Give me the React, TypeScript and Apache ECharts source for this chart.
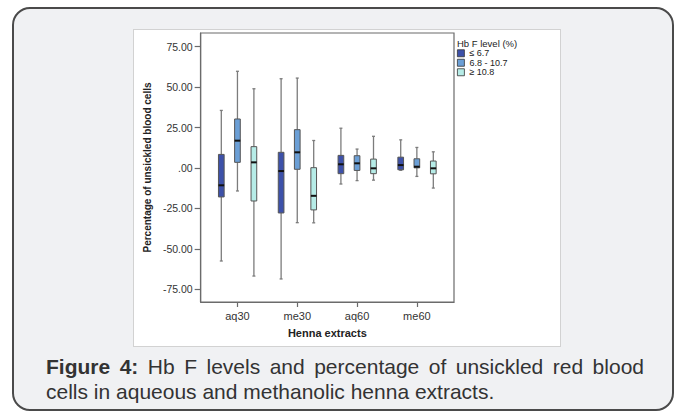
import React, { useEffect, useRef } from "react";
import * as echarts from "echarts";

const categories = ["aq30", "me30", "aq60", "me60"];
const levelNames = ["≤ 6.7", "6.8 - 10.7", "≥ 10.8"];
const levelColors = ["#3d51a9", "#6b9fd6", "#b6ece7"];
// [min, Q1, median, Q3, max] per category
const lowHbF = [
  [-57.5, -17.9, -10.7, 8.4, 35.6],
  [-68.6, -27.8, -1.9, 9.7, 55.2],
  [-9.9, -3.5, 2.3, 7.8, 24.6],
  [-1.4, -1.1, 1.8, 6.7, 17.4],
];
const midHbF = [
  [-14.2, 3.5, 16.9, 30.3, 59.8],
  [-33.8, -0.8, 9.7, 23.7, 55.6],
  [-7.8, -1.5, 2.9, 7.6, 11.7],
  [-5.2, 0.1, 0.8, 5.7, 12.7],
];
const highHbF = [
  [-66.8, -20.4, 3.5, 13.2, 49.0],
  [-33.9, -25.9, -17.2, 0.2, 17.0],
  [-7.5, -3.5, -0.2, 5.5, 19.6],
  [-12.4, -3.6, -0.2, 4.3, 10.0],
];
const yTicks = [-75, -50, -25, 0, 25, 50, 75];
const seriesValues = [lowHbF, midHbF, highHbF];
const boxOffsets = [-0.27, 0, 0.275];

const FONT = "'Liberation Sans', Arial, Helvetica, sans-serif";

function Chart() {
  const ref = useRef<HTMLDivElement>(null);
  useEffect(() => {
    if (!ref.current) return;
    const chart = echarts.init(ref.current, undefined, { renderer: "svg" });
    const series = seriesValues.map((vals, si) => ({
      type: "custom",
      name: levelNames[si],
      itemStyle: { color: levelColors[si] },
      encode: { x: 0, y: [1, 2, 3, 4, 5] },
      data: vals.map((v, ci) => [ci, ...v]),
      renderItem: (params: any, api: any) => {
        const x = api.value(0) + boxOffsets[si];
        const pMin = api.coord([x, api.value(1)]);
        const pQ1 = api.coord([x, api.value(2)]);
        const pMed = api.coord([x, api.value(3)]);
        const pQ3 = api.coord([x, api.value(4)]);
        const pMax = api.coord([x, api.value(5)]);
        const cx = pMed[0];
        const w = api.size([0.095, 0])[0];
        const wStyle = { stroke: "#7c7c7c", lineWidth: 1.3 };
        return {
          type: "group",
          children: [
            { type: "line", shape: { x1: cx, y1: pMax[1], x2: cx, y2: pQ3[1] }, style: wStyle },
            { type: "line", shape: { x1: cx, y1: pQ1[1], x2: cx, y2: pMin[1] }, style: wStyle },
            { type: "line", shape: { x1: cx - 1.5, y1: pMax[1], x2: cx + 1.5, y2: pMax[1] }, style: wStyle },
            { type: "line", shape: { x1: cx - 1.5, y1: pMin[1], x2: cx + 1.5, y2: pMin[1] }, style: wStyle },
            {
              type: "rect",
              shape: { x: cx - w / 2, y: pQ3[1], width: w, height: pQ1[1] - pQ3[1] },
              style: { fill: levelColors[si], stroke: "#555", lineWidth: 1 },
            },
            {
              type: "line",
              shape: { x1: cx - w / 2, y1: pMed[1], x2: cx + w / 2, y2: pMed[1] },
              style: { stroke: "#111", lineWidth: 2 },
            },
          ],
        };
      },
    }));
    chart.setOption({
      animation: false,
      backgroundColor: "#fff",
      textStyle: { fontFamily: FONT },
      grid: {
        left: 65,
        top: 3,
        width: 255,
        height: 269,
        show: true,
        borderColor: "#6b6b6b",
        borderWidth: 1.2,
      },
      legend: {
        orient: "vertical",
        left: 323,
        top: 18.5,
        padding: 0,
        itemGap: 0,
        itemWidth: 7,
        itemHeight: 7,
        icon: "rect",
        data: levelNames,
        itemStyle: { borderColor: "#333", borderWidth: 0.8 },
        textStyle: { fontSize: 9, lineHeight: 9.5, color: "#222", fontFamily: FONT },
      },
      graphic: [
        {
          type: "text",
          left: 323,
          top: 8.5,
          style: {
            text: "Hb F level (%)",
            fontSize: 9.5,
            lineHeight: 9.5,
            fill: "#222",
            fontFamily: FONT,
          },
        },
      ],
      xAxis: {
        type: "value",
        min: -0.615,
        max: 3.621,
        name: "Henna extracts",
        nameLocation: "middle",
        nameGap: 25,
        nameTextStyle: { fontSize: 11, fontWeight: "bold", color: "#222", fontFamily: FONT },
        splitLine: { show: false },
        axisLine: { show: true, onZero: false, lineStyle: { color: "#6b6b6b", width: 1.2 } },
        axisTick: {
          show: true,
          length: 5,
          customValues: [0, 1, 2, 3],
          lineStyle: { color: "#6b6b6b", width: 1.2 },
        },
        axisLabel: {
          customValues: [0, 1, 2, 3],
          margin: 8,
          fontSize: 11,
          color: "#333",
          fontFamily: FONT,
          formatter: (v: number) => categories[Math.round(v)] ?? "",
        },
      },
      yAxis: {
        type: "value",
        min: -82.85,
        max: 83.47,
        name: "Percentage of unsickled blood cells",
        nameLocation: "middle",
        nameGap: 45,
        nameTextStyle: { fontSize: 10, fontWeight: "bold", color: "#222", fontFamily: FONT },
        splitLine: { show: false },
        axisLine: { show: true, onZero: false, lineStyle: { color: "#6b6b6b", width: 1.2 } },
        axisTick: {
          show: true,
          length: 6,
          customValues: yTicks,
          lineStyle: { color: "#6b6b6b", width: 1.2 },
        },
        axisLabel: {
          customValues: yTicks,
          margin: 8,
          fontSize: 10.5,
          color: "#333",
          fontFamily: FONT,
          formatter: (v: number) => (v === 0 ? ".00" : v.toFixed(2)),
        },
      },
      series,
    });
    return () => chart.dispose();
  }, []);
  return (
    <div
      ref={ref}
      style={{ position: "absolute", left: 134, top: 30, width: 426, height: 316 }}
    />
  );
}

export default function App() {
  return (
    <div
      style={{
        position: "absolute",
        left: 0,
        top: 0,
        width: 675,
        height: 412,
        overflow: "hidden",
        background: "#fff",
        fontFamily: FONT,
      }}
    >
      <div
        style={{
          position: "absolute",
          left: 12,
          top: 7,
          width: 662,
          height: 404,
          boxSizing: "border-box",
          border: "2px solid #4a4a4a",
          borderRadius: 18,
          background: "#f0f1f3",
        }}
      />
      <div
        style={{
          position: "absolute",
          left: 133,
          top: 29,
          width: 428,
          height: 318,
          boxSizing: "border-box",
          border: "1px solid #d2d2d2",
          background: "#fff",
        }}
      />
      <Chart />
      <div
        style={{
          position: "absolute",
          left: 46,
          top: 354,
          width: 598,
          fontSize: 21,
          lineHeight: "25px",
          color: "#333",
        }}
      >
        <div style={{ textAlign: "justify", textAlignLast: "justify", whiteSpace: "nowrap" as any }}>
          <span style={{ fontWeight: "bold" }}>Figure 4:</span>{" "}
          <span>Hb F levels and percentage of unsickled red blood</span>
        </div>
        <div>cells in aqueous and methanolic henna extracts.</div>
      </div>
    </div>
  );
}
